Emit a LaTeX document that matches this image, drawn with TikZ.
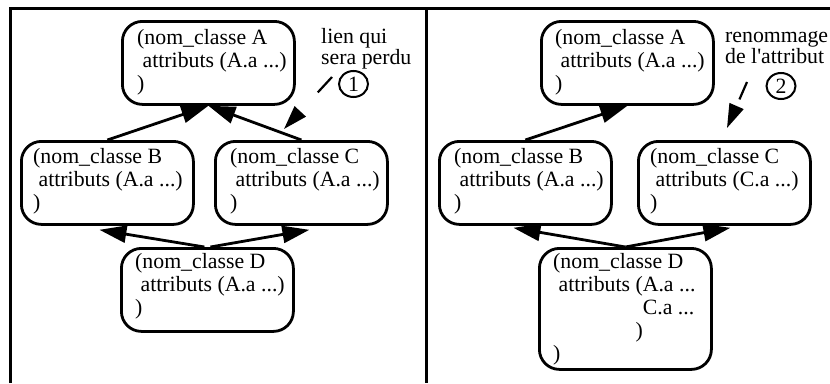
\documentclass[tikz,border=0pt]{standalone}
\usepackage{fontspec}
\newfontfamily\dfont{Liberation Serif}
\usetikzlibrary{arrows.meta,shapes.geometric,calc}
\newcommand\cellstack[1]{\begin{tabular}[t]{@{}l@{}}#1\end{tabular}}
\begin{document}
\begin{tikzpicture}[x=1pt,y=-1pt,
  box/.style={draw, line width=2.8pt, rounded corners=20pt, minimum width=172pt, minimum height=83pt, inner sep=0pt, anchor=north west},
  txt/.style={inner sep=0pt, anchor=base west, font=\dfont\fontsize{21.8pt}{23pt}\selectfont},
  ntxt/.style={inner sep=0pt, anchor=base west, font=\dfont\fontsize{21.8pt}{21.5pt}\selectfont},
  arr/.style={line width=2.8pt, -{Triangle[length=27pt,width=17pt]}},
  note/.style={line width=2.2pt, -{Triangle[length=24pt,width=15pt]}},
  num/.style={draw, ellipse, line width=2pt, minimum width=29pt, minimum height=26pt, inner sep=0pt, font=\dfont\fontsize{21.8pt}{23pt}\selectfont},
  frame/.style={line width=3pt}]
\useasboundingbox (0,0) rectangle (830,383);
% frame
\coordinate (fl) at (10,383);
\coordinate (ftl) at (10,8);
\coordinate (ftr) at (830,8);
\coordinate (fmt) at (426.5,8);
\coordinate (fmb) at (426.5,383);
\draw[frame] (fl) -- (ftl) -- (ftr);
\draw[frame] (fmt) -- (fmb);

% ---------- left panel ----------
\node[box] (A1) at (121,20) {};
\node[box] (B1) at (20,140) {};
\node[box] (C1) at (214,140) {};
\node[box] (D1) at (120,247) {};
\node[txt] (tA1) at ($(A1.north west)+(16,24)$) {\cellstack{(nom\_classe A\\\ attributs (A.a ...)\\)}};
\node[txt] (tB1) at ($(B1.north west)+(13,23)$) {\cellstack{(nom\_classe B\\\ attributs (A.a ...)\\)}};
\node[txt] (tC1) at ($(C1.north west)+(16,23)$) {\cellstack{(nom\_classe C\\\ attributs (A.a ...)\\)}};
\node[txt] (tD1) at ($(D1.north west)+(15,21)$) {\cellstack{(nom\_classe D\\\ attributs (A.a ...)\\)}};
\draw[arr] (B1.north) -- (A1.south);
\draw[arr] (C1.north) -- (A1.south);
\draw[arr] ($(D1.north)+(-3,0)$) -- ($(B1.south)+(-8,4)$);
\draw[arr] ($(D1.north)+(3,0)$) -- ($(C1.south)+(8,4)$);
\node[ntxt] (n1) at (321,43) {\cellstack{lien qui\\sera perdu}};
\node[num] (c1) at (353.5,84) {1};
\coordinate (d1s) at (332,77);
\coordinate (d1e) at (284,129);
\draw[note, dash pattern=on 21pt off 40pt] (d1s) -- (d1e);

% ---------- right panel ----------
\node[box] (A2) at (540,20) {};
\node[box] (B2) at (438,140) {};
\node[box] (C2) at (637,140) {};
\node[box, minimum height=121pt] (D2) at (538,247) {};
\node[txt] (tA2) at ($(A2.north west)+(15,24)$) {\cellstack{(nom\_classe A\\\ attributs (A.a ...)\\)}};
\node[txt] (tB2) at ($(B2.north west)+(16,23)$) {\cellstack{(nom\_classe B\\\ attributs (A.a ...)\\)}};
\node[txt] (tC2) at ($(C2.north west)+(13,23)$) {\cellstack{(nom\_classe C\\\ attributs (C.a ...)\\)}};
\node[txt] (tD2) at ($(D2.north west)+(15,21)$) {\cellstack{(nom\_classe D\\\ attributs (A.a ...\\\phantom{\ attributs (}C.a ...\\\phantom{\ attributs })\\)}};
\draw[arr] (B2.north) -- (A2.south);
\draw[arr] (D2.north) -- ($(B2.south)+(-12,2)$);
\draw[arr] (D2.north) -- ($(C2.south)+(6,2)$);
\node[ntxt] (n2) at (725,42) {\cellstack{renommage\\de l'attribut}};
\node[num] (c2) at (781,86) {2};
\coordinate (d2s) at (747,82);
\coordinate (d2e) at (727,128);
\draw[note, dash pattern=on 19pt off 20pt] (d2s) -- (d2e);
\end{tikzpicture}
\end{document}
